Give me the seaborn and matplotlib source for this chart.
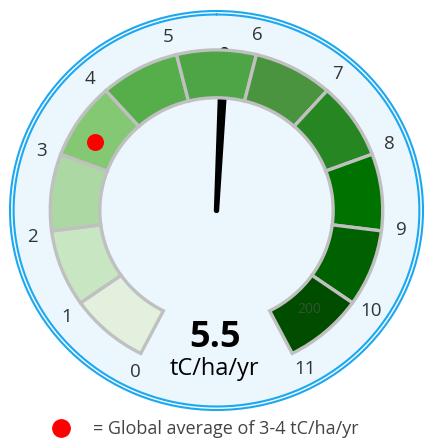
import numpy as np
import matplotlib
matplotlib.use("Agg")
import matplotlib.pyplot as plt
from matplotlib.lines import Line2D
import seaborn as sns

# gauge data
tick_values = list(range(0, 12))
seg_starts = list(range(0, 11))
seg_colors = ['#e2f0dd', '#c8e6c2', '#acd8a4', '#84c874', '#56ae4a', '#4ea546',
              '#4a9440', '#268722', '#007200', '#006100', '#004d00']
shown_value = 5.5
needle_value = 5.6
global_avg = 3.35
segment_note = '200'
unit_label = 'tC/ha/yr'
legend_label = '= Global average of 3-4 tC/ha/yr'

sns.set_style("white")
plt.rcParams['font.family'] = ['Open Sans', 'DejaVu Sans']

step = np.deg2rad(27.8)
mid = (tick_values[0] + tick_values[-1]) / 2


def ang(v):
    return (v - mid) * step


r_in, r_out, r_lab, r_max = 113, 161, 180, 200

fig = plt.figure(figsize=(4.24, 4.45), dpi=100)
ax = fig.add_axes([10 / 424, 35 / 445, 413 / 424, 399 / 445], projection='polar')
ax.set_aspect('auto')
ax.set_theta_zero_location('N')
ax.set_theta_direction(-1)
ax.set_ylim(0, r_max)
ax.set_facecolor('#ebf7fd')
ax.grid(False)
ax.set_xticks([])
ax.set_yticks([])
ax.spines['polar'].set_color('#1ca8f0')
ax.spines['polar'].set_linewidth(1.5)

# inner blue ring with a pale gap
th = np.linspace(0, 2 * np.pi, 500)
ax.fill_between(th, r_max - 3.5, r_max, color='#f7fcff', lw=0, zorder=0.5)
ax.plot(th, np.full_like(th, r_max - 3.5), color='#1ca8f0', lw=1.5, zorder=1)

# needle (drawn behind segments)
t0 = ang(needle_value)
d = np.linspace(0, 159, 60)
hw = 2.6 + (5 - 2.6) * d / 159
cap_top = np.linspace(np.pi / 2, -np.pi / 2, 30)
cap_bot = np.linspace(-np.pi / 2, -3 * np.pi / 2, 30)
xs = np.concatenate([d, 159 + 5 * np.cos(cap_top), d[::-1], 2.6 * np.cos(cap_bot)])
ys = np.concatenate([hw, 5 * np.sin(cap_top), -hw[::-1], 2.6 * np.sin(cap_bot)])
ax.fill(t0 + np.arctan2(ys, xs), np.hypot(xs, ys), color='black', lw=0, zorder=1.5)

# segments
ax.bar([ang(v + 0.5) for v in seg_starts], r_out - r_in, width=step, bottom=r_in,
       color=seg_colors, edgecolor='#c0c0c0', linewidth=2.4, zorder=2)

# tick labels
shift = np.deg2rad(-1.2)
for v in tick_values:
    ax.text(ang(v) + shift, r_lab, str(v), ha='center', va='center',
            fontsize=13.5, color='#333333', zorder=4)

ax.text(ang(seg_starts[-1] + 0.45), 134, segment_note, ha='center', va='center',
        fontsize=10, color='#555555', alpha=0.6, zorder=4)

# global average marker
sns.scatterplot(x=[ang(global_avg)], y=[136], ax=ax, s=150, color='red',
                linewidth=0, zorder=5)
ax.set_xlabel('')
ax.set_ylabel('')

ax.text(0.496, 0.181, f'{shown_value}', transform=ax.transAxes, ha='center',
        va='center', fontsize=26, fontweight='bold', color='black', zorder=6)
ax.text(0.496, 0.103, unit_label, transform=ax.transAxes, ha='center',
        va='center', fontsize=17, color='black', zorder=6)

handle = Line2D([], [], marker='o', color='red', linestyle='', markersize=12.5)
fig.legend([handle], [legend_label], loc='center left',
           bbox_to_anchor=(33.5 / 424, 15.5 / 445), frameon=False, borderpad=0,
           handletextpad=0.8, fontsize=13, labelcolor='#444444')

fig.savefig('out.png', dpi=100)
